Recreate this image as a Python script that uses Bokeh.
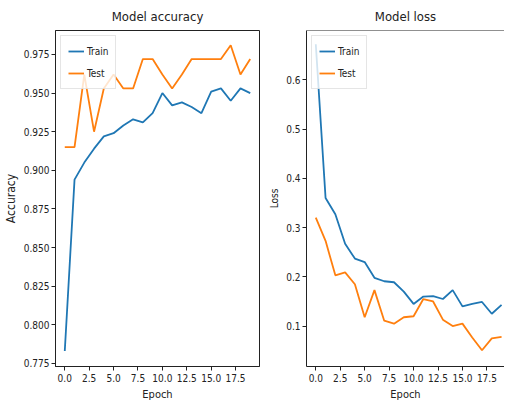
from bokeh.plotting import figure
from bokeh.layouts import row
from bokeh.models import Range1d, FixedTicker, NumeralTickFormatter, Span, Legend, LegendItem
from bokeh.embed import file_html
from bokeh.resources import INLINE

epochs = list(range(20))
train_acc = [0.783, 0.894, 0.905, 0.914, 0.922, 0.924, 0.929, 0.933, 0.931, 0.937,
             0.950, 0.942, 0.944, 0.941, 0.937, 0.951, 0.953, 0.945, 0.953, 0.950]
test_acc = [0.915, 0.915, 0.962, 0.925, 0.953, 0.962, 0.953, 0.953, 0.972, 0.972,
            0.962, 0.953, 0.962, 0.972, 0.972, 0.972, 0.972, 0.981, 0.962, 0.972]
train_loss = [0.672, 0.360, 0.327, 0.267, 0.237, 0.230, 0.198, 0.191, 0.189, 0.170,
              0.145, 0.160, 0.161, 0.155, 0.173, 0.140, 0.145, 0.149, 0.125, 0.143]
test_loss = [0.320, 0.273, 0.203, 0.209, 0.185, 0.118, 0.173, 0.111, 0.105, 0.118,
             0.120, 0.155, 0.150, 0.113, 0.100, 0.105, 0.077, 0.051, 0.075, 0.078]
acc_ticks = [0.775, 0.800, 0.825, 0.850, 0.875, 0.900, 0.925, 0.950, 0.975]
loss_ticks = [0.1, 0.2, 0.3, 0.4, 0.5, 0.6]
epoch_ticks = [0.0, 2.5, 5.0, 7.5, 10.0, 12.5, 15.0, 17.5]

FONT = "DejaVu Sans Condensed"
TXT = "#222222"
BLUE = "#1f77b4"
ORANGE = "#ff7f0e"


def style(p, yfmt, ylabel, ylabel_size):
    p.title.text_font = FONT
    p.title.text_font_size = "13px"
    p.title.text_font_style = "normal"
    p.title.text_color = TXT
    p.title.align = "center"
    p.title.standoff = 13
    p.xgrid.visible = False
    p.ygrid.visible = False
    p.background_fill_color = "white"
    p.border_fill_color = "white"
    for ax in (p.xaxis[0], p.yaxis[0]):
        ax.axis_line_color = "#222222"
        ax.major_tick_line_color = "#222222"
        ax.major_tick_out = 4
        ax.major_tick_in = 0
        ax.minor_tick_line_color = None
        ax.major_label_text_font = FONT
        ax.major_label_text_font_size = "10px"
        ax.major_label_text_color = TXT
        ax.major_label_standoff = 2
        ax.axis_label_text_font = FONT
        ax.axis_label_text_font_style = "normal"
        ax.axis_label_text_color = TXT
        ax.axis_label_standoff = 3
    p.xaxis[0].ticker = FixedTicker(ticks=epoch_ticks)
    p.xaxis[0].formatter = NumeralTickFormatter(format="0.0")
    p.xaxis[0].axis_label = "Epoch"
    p.xaxis[0].axis_label_text_font_size = "11px"
    p.xaxis[0].major_label_standoff = 3
    p.xaxis[0].axis_label_standoff = 3
    p.yaxis[0].formatter = NumeralTickFormatter(format=yfmt)
    p.yaxis[0].axis_label = ylabel
    p.yaxis[0].axis_label_text_font_size = ylabel_size


def add_lines(p, tr, te):
    r1 = p.line(epochs, tr, line_color=BLUE, line_width=1.8)
    r2 = p.line(epochs, te, line_color=ORANGE, line_width=1.8)
    leg = Legend(items=[LegendItem(label="Train", renderers=[r1]),
                        LegendItem(label="Test", renderers=[r2])],
                 location="top_left")
    leg.label_text_font = FONT
    leg.label_text_font_size = "10px"
    leg.label_text_color = TXT
    leg.glyph_width = 16
    leg.glyph_height = 16
    leg.label_standoff = 3
    leg.padding = 7
    leg.spacing = 6
    leg.margin = 5
    leg.border_line_color = "#cccccc"
    leg.background_fill_alpha = 0.8
    leg.label_height = 16
    p.add_layout(leg)


p1 = figure(width=266, height=403, title="Model accuracy",
            x_range=Range1d(-0.95, 19.95), y_range=Range1d(0.773, 0.9905),
            output_backend="svg", toolbar_location=None,
            min_border_left=30, min_border_right=7, min_border_top=0, min_border_bottom=0)
style(p1, "0.000", "Accuracy", "12px")
p1.yaxis[0].ticker = FixedTicker(ticks=acc_ticks)
p1.outline_line_color = "#222222"
p1.outline_line_alpha = 1
add_lines(p1, train_acc, test_acc)

p2 = figure(width=238, height=403, title="Model loss",
            x_range=Range1d(-0.95, 19.3), y_range=Range1d(0.018, 0.70),
            output_backend="svg", toolbar_location=None,
            min_border_left=20, min_border_right=0, min_border_top=0, min_border_bottom=0)
style(p2, "0.0", "Loss", "10px")
p2.yaxis[0].ticker = FixedTicker(ticks=loss_ticks)
p2.outline_line_color = None
p2.add_layout(Span(location=0.70, dimension="width", line_color="#222222", line_width=1))
add_lines(p2, train_loss, test_loss)

layout = row(p1, p2)
open("out.html", "w").write(file_html(layout, INLINE))
